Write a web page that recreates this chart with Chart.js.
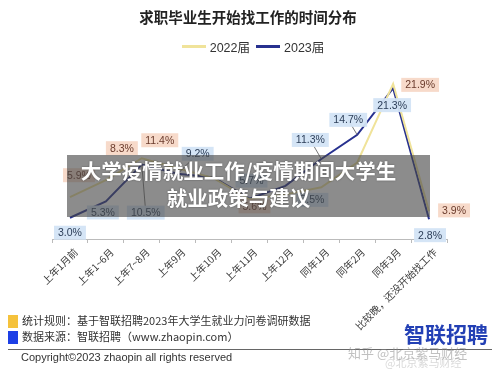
<!DOCTYPE html>
<html>
<head>
<meta charset="utf-8">
<script src="https://cdn.jsdelivr.net/npm/chart.js@4.4.0/dist/chart.umd.min.js"></script>
<style>
  body { margin: 0; background: #fff; font-family: "Noto Sans CJK SC", "Noto Sans", sans-serif; }
  #wrap { position: relative; width: 500px; height: 373px; overflow: hidden; }
  #chart { position: absolute; left: 0; top: 0; }
  .title { position: absolute; top: 6px; left: 0; width: 496px; text-align: center; font-size: 14.5px; font-weight: bold; color: #222; }
  .legend { position: absolute; top: 37px; left: 0; width: 500px; display: flex; justify-content: center; align-items: center; font-size: 12.5px; color: #333; font-family: "Liberation Sans", "Noto Sans CJK SC", sans-serif; }
  .legend span.ln { display: inline-block; width: 24px; height: 2.5px; margin: 0 4px 0 6px; }
  .cover { position: absolute; left: 67px; top: 155px; width: 363px; height: 62px; background: rgba(70,70,70,0.62); }
  .cover div { position: absolute; left: -10px; width: 363px; text-align: center; color: #fff; font-weight: bold; font-size: 20.5px; line-height: 24px; text-shadow: 0 0 2px rgba(0,0,0,0.4); }
  .foot { position: absolute; left: 22px; font-size: 11px; color: #333; white-space: nowrap; }
  .sq { position: absolute; left: 8px; width: 10px; height: 13px; }
  .rule { position: absolute; left: 8px; top: 349px; width: 484px; height: 1px; background: #666; }
  .copy { position: absolute; left: 21px; top: 351px; font-size: 11px; color: #333; font-family: "Liberation Sans", Arial, sans-serif; }
  .logo { position: absolute; left: 404px; top: 318px; font-size: 21px; font-weight: bold; color: #2340b5; }
  .wm { position: absolute; font-size: 13px; color: rgba(140,140,140,0.55); white-space: nowrap; }
</style>
</head>
<body>
<div id="wrap">
  <canvas id="chart" width="500" height="373"></canvas>
  <div class="title">求职毕业生开始找工作的时间分布</div>
  <div class="legend">
    <span class="ln" style="background:#f0e39a"></span>2022届
    <span class="ln" style="background:#27318f"></span>2023届
  </div>
  <div class="cover">
    <div style="top:3px">大学疫情就业工作/疫情期间大学生</div>
    <div style="top:30px">就业政策与建议</div>
  </div>
  <div class="sq" style="top:315px;background:#f5c23c"></div>
  <div class="foot" style="top:312px">统计规则：基于智联招聘2023年大学生就业力问卷调研数据</div>
  <div class="sq" style="top:331px;background:#1d3fe6"></div>
  <div class="foot" style="top:328px">数据来源：智联招聘（www.zhaopin.com）</div>
  <div class="rule"></div>
  <div class="copy">Copyright©2023 zhaopin all rights reserved</div>
  <div class="logo">智联招聘</div>
  <div class="wm" style="left:348px;top:343px">知乎 @北京紫马财经</div>
  <div class="wm" style="left:385px;top:354px;font-size:11px;color:rgba(160,160,160,0.4)">@北京紫马财经</div>
</div>
<script>
const categories = ["上年1月前", "上年1~6月", "上年7~8月", "上年9月", "上年10月", "上年11月",
  "上年12月", "同年1月", "同年2月", "同年3月", "比较晚，还没开始找工作"];
const values2022 = [5.9, 8.3, 11.4, 10.0, 8.6, 5.6, 6.3, 7.3, 10.8, 21.9, 3.9];
const values2023 = [3.0, 5.3, 10.5, 9.2, 8.7, 5.7, 7.5, 11.3, 14.7, 21.3, 2.8];

// label placement relative to the point: [dx, dy, leader line]
const labelPos2022 = [[9, -22], [16, -32], [18, -18], null, null, [5, 7], null, null, null, [27, 1], [25, -1]];
const labelPos2023 = [[0, 15], [-3, 11], [4, 48, true], [20, -20, true], null, [2, -18], [27, 14],
  [-11, -19, true], [-9, -15, true], [-1, 17], [1, 16]];

const labelStyles = [
  { bg: "rgba(246,214,196,0.9)", fg: "#6a3b2c" },
  { bg: "rgba(211,228,245,0.95)", fg: "#2c3e58" }
];

const pointLabels = {
  id: "pointLabels",
  afterDatasetsDraw(chart) {
    const ctx = chart.ctx;
    const all = [labelPos2022, labelPos2023];
    chart.data.datasets.forEach((ds, di) => {
      const meta = chart.getDatasetMeta(di);
      meta.data.forEach((pt, i) => {
        const o = all[di][i];
        if (!o) return;
        const x = pt.x + o[0];
        const y = pt.y + o[1];
        const text = ds.data[i].toFixed(1) + "%";
        ctx.save();
        ctx.font = '10.5px "Liberation Sans", Arial, sans-serif';
        const w = ctx.measureText(text).width + 8;
        const h = 14;
        if (o[2]) {
          ctx.strokeStyle = "#555";
          ctx.lineWidth = 0.8;
          ctx.beginPath();
          ctx.moveTo(pt.x, pt.y);
          ctx.lineTo(x, y);
          ctx.stroke();
        }
        ctx.fillStyle = labelStyles[di].bg;
        ctx.fillRect(x - w / 2, y - h / 2, w, h);
        ctx.fillStyle = labelStyles[di].fg;
        ctx.textAlign = "center";
        ctx.textBaseline = "middle";
        ctx.fillText(text, x, y + 0.5);
        ctx.restore();
      });
    });
  }
};

new Chart(document.getElementById("chart"), {
  type: "line",
  data: {
    labels: categories,
    datasets: [
      { label: "2022届", data: values2022, borderColor: "#f0e39a", borderWidth: 2, pointRadius: 0, tension: 0 },
      { label: "2023届", data: values2023, borderColor: "#27318f", borderWidth: 2, pointRadius: 0, tension: 0 }
    ]
  },
  options: {
    responsive: false,
    animation: false,
    layout: { padding: { left: 52, right: 53, top: 69, bottom: 39 } },
    plugins: { legend: { display: false }, title: { display: false }, tooltip: { enabled: false } },
    scales: {
      x: {
        offset: true,
        grid: { offset: true, drawOnChartArea: false, drawTicks: true, tickLength: 4, color: "#bbb" },
        border: { color: "#bbb" },
        ticks: {
          minRotation: 45, maxRotation: 45, autoSkip: false, padding: 3, labelOffset: 6,
          color: "#3a3a3a", font: { size: 10, family: '"Noto Sans CJK SC", sans-serif' }
        },
        afterFit(scale) { scale.height = 95; }
      },
      y: { display: false, min: 0, max: 24 }
    }
  },
  plugins: [pointLabels]
});
</script>
</body>
</html>
